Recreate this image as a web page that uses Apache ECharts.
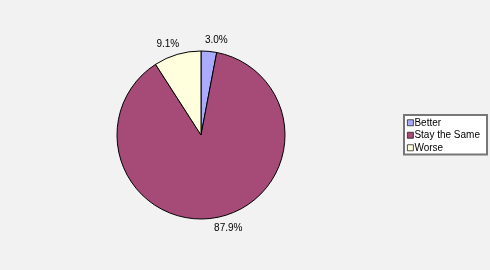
<!DOCTYPE html>
<html><head><meta charset="utf-8">
<script src="https://cdn.jsdelivr.net/npm/echarts@6/dist/echarts.min.js"></script>
<style>html,body{margin:0;padding:0;background:#f2f2f2}#c{width:490px;height:270px}</style>
</head><body><div id="c"></div>
<script>
var categories = ["Better", "Stay the Same", "Worse"];
var values = [3.0, 87.9, 9.1];
var colors = ["#aaaaff", "#a64a78", "#ffffdd"];

var chart = echarts.init(document.getElementById('c'), null, {renderer: 'canvas'});
chart.setOption({
  backgroundColor: '#f2f2f2',
  animation: false,
  legend: {
    orient: 'vertical',
    left: 404, top: 115,
    backgroundColor: '#ffffff',
    borderColor: '#777777',
    borderWidth: 2,
    borderRadius: 0,
    padding: [1.5, 7, 0.5, 3],
    itemWidth: 6, itemHeight: 6, itemGap: 0,
    icon: 'rect',
    itemStyle: {borderColor: '#222', borderWidth: 0.8},
    textStyle: {fontFamily: 'Liberation Sans, Arial, sans-serif', fontSize: 10, color: '#000', padding: [0, 0, 0, -4], lineHeight: 12.5},
    data: categories
  },
  series: [{
    type: 'pie',
    center: [201, 135],
    radius: 84,
    startAngle: 90,
    clockwise: true,
    data: categories.map(function (c, i) { return {name: c, value: values[i], itemStyle: {color: colors[i]}}; }),
    itemStyle: {borderColor: '#000', borderWidth: 1},
    label: {
      show: true, position: 'outside',
      distanceToLabelLine: -5,
      formatter: function (p) { return p.value.toFixed(1) + '%'; },
      fontFamily: 'Liberation Sans, Arial, sans-serif', fontSize: 10, color: '#000'
    },
    labelLine: {show: false, length: 11, length2: 0},
    emphasis: {disabled: true}
  }]
});
</script></body></html>
